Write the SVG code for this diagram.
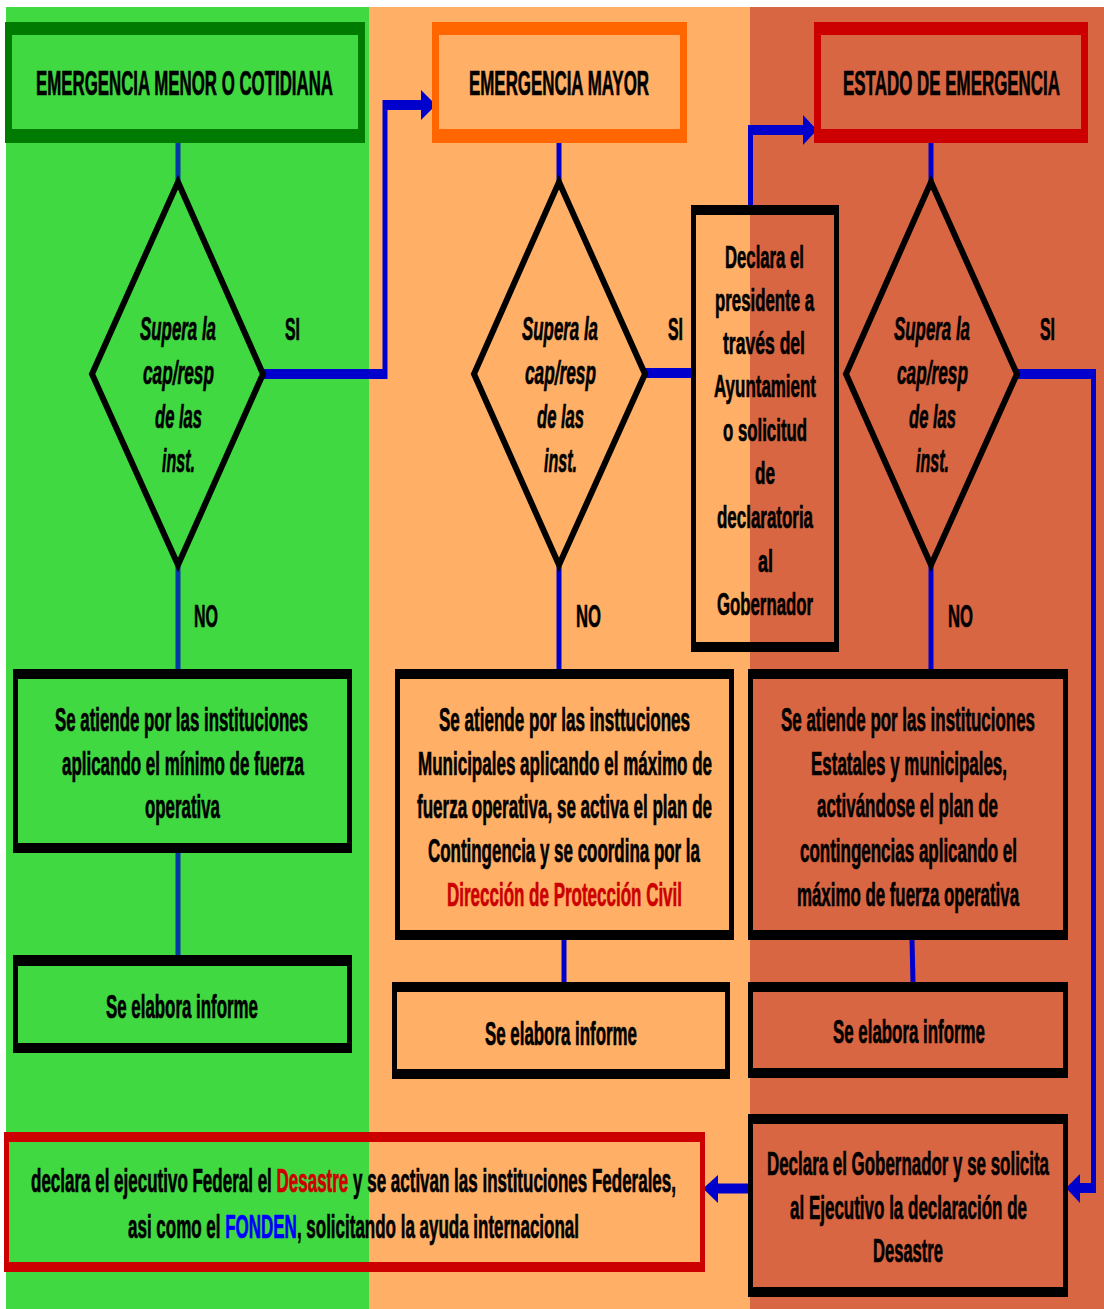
<svg xmlns="http://www.w3.org/2000/svg" width="1104" height="1309" viewBox="0 0 1104 1309">
<style>
.t{font-family:"Liberation Sans Narrow","Liberation Sans",Arial,sans-serif;font-weight:bold;font-size:33px;fill:#000;stroke:#000;stroke-width:0.7}
.h{font-size:35px}
.d{font-size:32px}
.i{font-style:italic;font-size:34px}
.lbl{font-size:32px}
.red{fill:#CC0000;stroke:#CC0000}
.blue{fill:#0000FF;stroke:#0000FF}
.frame{fill-rule:evenodd;fill:#000}
.dia{fill:none;stroke:#000;stroke-width:6;stroke-linejoin:miter}
.cv{stroke:#0000CC;stroke-width:5}
.cvg{stroke:#0038A8;stroke-width:5}
.ch{stroke:#0000CC;stroke-width:10}
.ah{fill:#0000CC}
</style>
<rect x="0" y="0" width="1104" height="1309" fill="#FFFFFF"/>
<rect x="6" y="7" width="363" height="1302" fill="#41D941"/>
<rect x="369" y="7" width="381" height="1302" fill="#FFB066"/>
<rect x="750" y="7" width="354" height="1302" fill="#D96642"/>

<g id="connectors">
  <line class="cvg" x1="178" y1="143" x2="178" y2="190"/>
  <line class="cvg" x1="178" y1="560" x2="178" y2="670"/>
  <line class="cvg" x1="178" y1="852" x2="178" y2="956"/>
  <line class="ch" x1="263" y1="374" x2="387" y2="374"/>
  <line class="cv" x1="385" y1="379" x2="385" y2="100"/>
  <line class="ch" x1="383" y1="105" x2="422" y2="105"/>
  <polygon class="ah" points="421,90 436,105 421,120"/>

  <line class="cv" x1="559" y1="143" x2="559" y2="190"/>
  <line class="cv" x1="559" y1="560" x2="559" y2="670"/>
  <line class="cv" x1="564" y1="939" x2="564" y2="983"/>
  <line class="ch" x1="645" y1="373" x2="692" y2="373"/>

  <line class="cv" x1="750.5" y1="206" x2="750.5" y2="125"/>
  <line class="ch" x1="748" y1="130" x2="804" y2="130"/>
  <polygon class="ah" points="803,115 817,130 803,145"/>

  <line class="cv" x1="931" y1="143" x2="931" y2="190"/>
  <line class="cv" x1="931" y1="560" x2="931" y2="670"/>
  <line class="cv" x1="912" y1="939" x2="913" y2="983"/>
  <line class="ch" x1="1017" y1="374" x2="1096" y2="374"/>
  <line class="cv" x1="1093.5" y1="369" x2="1093.5" y2="1193"/>
  <line class="ch" x1="1079" y1="1188" x2="1096" y2="1188"/>
  <polygon class="ah" points="1080,1174 1066,1188 1080,1203"/>

  <line class="ch" x1="716" y1="1188.5" x2="750" y2="1188.5"/>
  <polygon class="ah" points="718,1175 703,1188.5 718,1203"/>
</g>

<g id="header-menor">
  <path class="frame" style="fill:#007A00" d="M5 22H365V143H5Z M12 35V129H358V35Z"/>
  <text class="t h" x="36" y="95" textLength="297" lengthAdjust="spacingAndGlyphs">EMERGENCIA MENOR O COTIDIANA</text>
</g>
<g id="header-mayor">
  <path class="frame" style="fill:#FF6600" d="M432 22H687V143H432Z M439 35V129H680V35Z"/>
  <text class="t h" x="469" y="95" textLength="180" lengthAdjust="spacingAndGlyphs">EMERGENCIA MAYOR</text>
</g>
<g id="header-estado">
  <path class="frame" style="fill:#CC0000" d="M814 22H1088V143H814Z M821 35V129H1081V35Z"/>
  <text class="t h" x="843" y="95" textLength="217" lengthAdjust="spacingAndGlyphs">ESTADO DE EMERGENCIA</text>
</g>

<g id="decision-1">
  <polygon class="dia" points="178,182 263,374 178,565 92,374"/>
  <text class="t i" x="140" y="340" textLength="76" lengthAdjust="spacingAndGlyphs">Supera la</text>
  <text class="t i" x="143" y="384" textLength="71" lengthAdjust="spacingAndGlyphs">cap/resp</text>
  <text class="t i" x="155" y="428" textLength="47" lengthAdjust="spacingAndGlyphs">de las</text>
  <text class="t i" x="162" y="472" textLength="33" lengthAdjust="spacingAndGlyphs">inst.</text>
  <text class="t lbl" x="285" y="340" textLength="15" lengthAdjust="spacingAndGlyphs">SI</text>
  <text class="t lbl" x="194" y="627" textLength="24" lengthAdjust="spacingAndGlyphs">NO</text>
</g>
<g id="decision-2">
  <polygon class="dia" points="559,182 645,374 559,565 474,374"/>
  <text class="t i" x="522" y="340" textLength="76" lengthAdjust="spacingAndGlyphs">Supera la</text>
  <text class="t i" x="525" y="384" textLength="71" lengthAdjust="spacingAndGlyphs">cap/resp</text>
  <text class="t i" x="537" y="428" textLength="47" lengthAdjust="spacingAndGlyphs">de las</text>
  <text class="t i" x="544" y="472" textLength="33" lengthAdjust="spacingAndGlyphs">inst.</text>
  <text class="t lbl" x="668" y="340" textLength="15" lengthAdjust="spacingAndGlyphs">SI</text>
  <text class="t lbl" x="576" y="627" textLength="25" lengthAdjust="spacingAndGlyphs">NO</text>
</g>
<g id="decision-3">
  <polygon class="dia" points="931,182 1017,374 931,565 846,374"/>
  <text class="t i" x="894" y="340" textLength="76" lengthAdjust="spacingAndGlyphs">Supera la</text>
  <text class="t i" x="897" y="384" textLength="71" lengthAdjust="spacingAndGlyphs">cap/resp</text>
  <text class="t i" x="909" y="428" textLength="47" lengthAdjust="spacingAndGlyphs">de las</text>
  <text class="t i" x="916" y="472" textLength="33" lengthAdjust="spacingAndGlyphs">inst.</text>
  <text class="t lbl" x="1040" y="340" textLength="15" lengthAdjust="spacingAndGlyphs">SI</text>
  <text class="t lbl" x="948" y="627" textLength="25" lengthAdjust="spacingAndGlyphs">NO</text>
</g>

<g id="declara-presidente">
  <path class="frame" d="M691 205H839V652H691Z M696 215V642H834V215Z"/>
  <text class="t d" x="725" y="268" textLength="79" lengthAdjust="spacingAndGlyphs">Declara el</text>
  <text class="t d" x="715" y="311" textLength="99" lengthAdjust="spacingAndGlyphs">presidente a</text>
  <text class="t d" x="723" y="354" textLength="82" lengthAdjust="spacingAndGlyphs">través  del</text>
  <text class="t d" x="714" y="397" textLength="102" lengthAdjust="spacingAndGlyphs">Ayuntamient</text>
  <text class="t d" x="723" y="441" textLength="84" lengthAdjust="spacingAndGlyphs">o solicitud</text>
  <text class="t d" x="755" y="484" textLength="20" lengthAdjust="spacingAndGlyphs">de</text>
  <text class="t d" x="717" y="528" textLength="96" lengthAdjust="spacingAndGlyphs">declaratoria</text>
  <text class="t d" x="758" y="572" textLength="15" lengthAdjust="spacingAndGlyphs">al</text>
  <text class="t d" x="717" y="615" textLength="96" lengthAdjust="spacingAndGlyphs">Gobernador</text>
</g>

<g id="atiende-menor">
  <path class="frame" d="M13 669H352V853H13Z M18 679V843H347V679Z"/>
  <text class="t" x="55" y="731" textLength="253" lengthAdjust="spacingAndGlyphs">Se atiende por las instituciones</text>
  <text class="t" x="62" y="775" textLength="242" lengthAdjust="spacingAndGlyphs">aplicando el mínimo de fuerza</text>
  <text class="t" x="145" y="818" textLength="75" lengthAdjust="spacingAndGlyphs">operativa</text>
</g>
<g id="informe-menor">
  <path class="frame" d="M13 955H352V1053H13Z M18 966V1043H347V966Z"/>
  <text class="t" x="106" y="1018" textLength="152" lengthAdjust="spacingAndGlyphs">Se elabora informe</text>
</g>

<g id="atiende-mayor">
  <path class="frame" d="M395 669H734V940H395Z M400 679V930H729V679Z"/>
  <text class="t" x="439" y="731" textLength="251" lengthAdjust="spacingAndGlyphs">Se atiende por las insttuciones</text>
  <text class="t" x="418" y="775" textLength="294" lengthAdjust="spacingAndGlyphs">Municipales aplicando el máximo de</text>
  <text class="t" x="417" y="818" textLength="295" lengthAdjust="spacingAndGlyphs">fuerza operativa, se activa el plan de</text>
  <text class="t" x="428" y="862" textLength="272" lengthAdjust="spacingAndGlyphs">Contingencia y se coordina por la</text>
  <text class="t red" x="447" y="906" textLength="235" lengthAdjust="spacingAndGlyphs">Dirección de Protección Civil</text>
</g>
<g id="informe-mayor">
  <path class="frame" d="M392 982H730V1079H392Z M397 992V1069H725V992Z"/>
  <text class="t" x="485" y="1045" textLength="152" lengthAdjust="spacingAndGlyphs">Se elabora informe</text>
</g>

<g id="atiende-estado">
  <path class="frame" d="M748 669H1068V940H748Z M753 679V930H1063V679Z"/>
  <text class="t" x="781" y="731" textLength="254" lengthAdjust="spacingAndGlyphs">Se atiende por las instituciones</text>
  <text class="t" x="811" y="775" textLength="196" lengthAdjust="spacingAndGlyphs">Estatales y municipales,</text>
  <text class="t" x="817" y="817" textLength="181" lengthAdjust="spacingAndGlyphs">activándose el plan de</text>
  <text class="t" x="800" y="862" textLength="217" lengthAdjust="spacingAndGlyphs">contingencias aplicando el</text>
  <text class="t" x="797" y="906" textLength="222" lengthAdjust="spacingAndGlyphs">máximo de fuerza operativa</text>
</g>
<g id="informe-estado">
  <path class="frame" d="M748 982H1068V1078H748Z M753 992V1068H1063V992Z"/>
  <text class="t" x="833" y="1043" textLength="152" lengthAdjust="spacingAndGlyphs">Se elabora informe</text>
</g>

<g id="declara-gobernador">
  <path class="frame" d="M748 1114H1068V1297H748Z M753 1124V1287H1063V1124Z"/>
  <text class="t" x="767" y="1175" textLength="282" lengthAdjust="spacingAndGlyphs">Declara el Gobernador y se solicita</text>
  <text class="t" x="790" y="1219" textLength="237" lengthAdjust="spacingAndGlyphs">al Ejecutivo la declaración de</text>
  <text class="t" x="873" y="1262" textLength="70" lengthAdjust="spacingAndGlyphs">Desastre</text>
</g>

<g id="declara-federal">
  <path class="frame" style="fill:#CC0000" d="M4 1132H705V1272H4Z M9 1142V1262H700V1142Z"/>
  <text class="t" x="31" y="1192" textLength="645" lengthAdjust="spacingAndGlyphs">declara el ejecutivo Federal el <tspan class="red">Desastre</tspan> y se activan las instituciones Federales,</text>
  <text class="t" x="128" y="1238" textLength="451" lengthAdjust="spacingAndGlyphs">asi como el <tspan class="blue">FONDEN</tspan>, solicitando la ayuda internacional</text>
</g>
</svg>
